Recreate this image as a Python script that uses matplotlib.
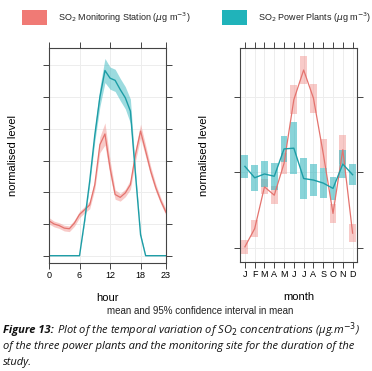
import matplotlib
matplotlib.use("Agg")
import matplotlib.pyplot as plt
import numpy as np

# hourly profile (normalised level)
hours = np.arange(24)
station_hour = [1.10, 1.00, 0.95, 0.87, 0.85, 1.03, 1.30, 1.45, 1.60, 2.24, 3.50, 3.84,
                2.77, 1.93, 1.84, 1.98, 2.24, 3.19, 3.93, 3.30, 2.66, 2.14, 1.72, 1.37]
station_hour_ci = [0.10, 0.09, 0.09, 0.09, 0.09, 0.10, 0.10, 0.10, 0.12, 0.15, 0.25, 0.35,
                   0.25, 0.15, 0.12, 0.12, 0.15, 0.20, 0.22, 0.18, 0.15, 0.12, 0.10, 0.10]
plants_hour = [0, 0, 0, 0, 0, 0, 0, 1.10, 2.35, 3.80, 5.00, 5.84,
               5.60, 5.53, 5.24, 4.98, 4.56, 2.56, 0.66, 0, 0, 0, 0, 0]
plants_hour_ci = [0, 0, 0, 0, 0, 0, 0, 0.05, 0.10, 0.20, 0.30, 0.38,
                  0.35, 0.35, 0.35, 0.35, 0.38, 0.15, 0.05, 0, 0, 0, 0, 0]

# monthly profile (normalised level)
months = np.arange(1, 13)
month_labels = ["J", "F", "M", "A", "M", "J", "J", "A", "S", "O", "N", "D"]
station_month = [0.02, 0.26, 0.81, 0.70, 1.12, 1.96, 2.35, 1.98, 1.25, 0.46, 1.30, 0.20]
station_month_ci = [0.09, 0.11, 0.10, 0.12, 0.14, 0.19, 0.19, 0.19, 0.19, 0.13, 0.19, 0.12]
plants_month = [1.08, 0.93, 0.98, 0.95, 1.31, 1.32, 0.92, 0.90, 0.86, 0.79, 1.11, 0.97]
plants_month_ci = [0.15, 0.17, 0.17, 0.18, 0.17, 0.34, 0.27, 0.21, 0.20, 0.15, 0.18, 0.14]

red_fill = "#F08A85"
red_line = "#E4736E"
teal_fill = "#3BB8C0"
teal_line = "#1D9DA6"
frame = "#444444"

plt.rcParams["font.family"] = ["Liberation Sans", "DejaVu Sans"]

fig = plt.figure(figsize=(3.72, 3.71), dpi=100)
W, H = 372, 371


def px_axes(x0, y0, x1, y1):
    return fig.add_axes([x0 / W, 1 - y1 / H, (x1 - x0) / W, (y1 - y0) / H])


def style(ax):
    for s in ax.spines.values():
        s.set_color(frame)
        s.set_linewidth(0.8)
    ax.tick_params(axis="both", which="both", direction="out", length=4, width=0.7,
                   color=frame, top=True, right=True, labelsize=6.5, pad=2)
    ax.tick_params(axis="y", labelleft=False)
    ax.grid(True, color="#EDEDED", linewidth=0.7)
    ax.set_axisbelow(True)


# hour panel
ax1 = px_axes(49, 48, 166, 263)
sh = np.array(station_hour)
shc = np.array(station_hour_ci)
ph = np.array(plants_hour)
phc = np.array(plants_hour_ci)
ax1.fill_between(hours, sh - shc, sh + shc, color=red_fill, alpha=0.45, lw=0)
ax1.fill_between(hours, ph - phc, ph + phc, color=teal_fill, alpha=0.5, lw=0)
ax1.plot(hours, sh, color=red_line, lw=0.9)
ax1.plot(hours, ph, color=teal_line, lw=1.0)
ax1.set_xlim(0, 23)
ax1.set_ylim(-0.23, 6.55)
ax1.set_xticks([0, 6, 12, 18, 23])
ax1.set_yticks(range(7))
style(ax1)
ax1.set_xlabel("hour", fontsize=8, labelpad=9)
ax1.set_ylabel("normalised level", fontsize=8, labelpad=18)

# month panel
ax2 = px_axes(240, 48, 357, 262)
sm = np.array(station_month)
smc = np.array(station_month_ci)
pm = np.array(plants_month)
pmc = np.array(plants_month_ci)
ax2.bar(months, 2 * smc, bottom=sm - smc, width=0.7, color=red_fill, alpha=0.45, lw=0)
ax2.bar(months, 2 * pmc, bottom=pm - pmc, width=0.7, color=teal_fill, alpha=0.6, lw=0)
ax2.plot(months, sm, color=red_line, lw=0.9)
ax2.plot(months, pm, color=teal_line, lw=1.0)
ax2.set_xlim(0.5, 12.45)
ax2.set_ylim(-0.18, 2.64)
ax2.set_xticks(months)
ax2.set_xticklabels(month_labels)
ax2.set_yticks([0, 1, 2])
style(ax2)
ax2.set_xlabel("month", fontsize=8, labelpad=9)
ax2.set_ylabel("normalised level", fontsize=8, labelpad=18)

# legend
fig.patches.append(plt.Rectangle((22 / W, 1 - 25 / H), 25 / W, 15 / H, transform=fig.transFigure,
                                 color="#F07A75", lw=0))
fig.patches.append(plt.Rectangle((222 / W, 1 - 25 / H), 25 / W, 15 / H, transform=fig.transFigure,
                                 color="#20B3BA", lw=0))
fig.text(58 / W, 1 - 17.5 / H, r"SO$_2$ Monitoring Station ($\mu$g m$^{-3}$)", fontsize=6.5,
         va="center", ha="left", color="#222222")
fig.text(258 / W, 1 - 17.5 / H, r"SO$_2$ Power Plants ($\mu$g m$^{-3}$)", fontsize=6.5,
         va="center", ha="left", color="#222222")

fig.text(200 / W, 1 - 311 / H, "mean and 95% confidence interval in mean", fontsize=7,
         ha="center", va="center", color="#222222")

# caption
cap = dict(fontsize=8.05, family=["Open Sans", "DejaVu Sans"], style="italic", va="center",
           color="#111111")
t = fig.text(3 / W, 1 - 330 / H, "Figure 13:", weight="bold", **cap)
fig.canvas.draw()
bb = t.get_window_extent()
fig.text((bb.x1 + 3) / W, 1 - 330 / H,
         r"Plot of the temporal variation of SO$_2$ concentrations (µg.m$^{-3}$)", **cap)
fig.text(3 / W, 1 - 346 / H, "of the three power plants and the monitoring site for the duration of the",
         **cap)
fig.text(3 / W, 1 - 362 / H, "study.", **cap)

fig.savefig("out.png", dpi=100)
